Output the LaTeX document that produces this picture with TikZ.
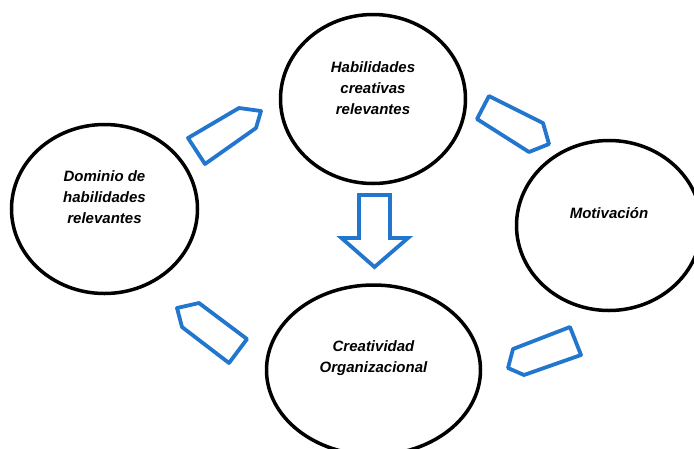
\documentclass[tikz,border=0pt]{standalone}
\usepackage{fontspec}
\setmainfont{Liberation Sans}
\usepackage{xcolor}
\usepackage{tikz}
\usetikzlibrary{shapes.geometric, calc}
\definecolor{arrblue}{RGB}{35,118,206}

\begin{document}
\begin{tikzpicture}[
  x=1pt, y=-1pt,
  font=\fontsize{15}{21}\selectfont\bfseries\itshape,
  circ/.style={ellipse, draw=black, line width=3.5pt, fill=white, inner sep=0pt},
  lbl/.style={align=center, inner sep=0pt},
  blk/.style={draw=arrblue, line width=3.8pt, fill=white, line join=round}
]
%% frame (x 0..694, y 0..448 from top)
\useasboundingbox (0,0) rectangle (694,448);
%% ellipses
\node[circ, minimum width=185pt, minimum height=169pt] (n_hab) at (373,99)  {};
\node[circ, minimum width=186pt, minimum height=169pt] (n_dom) at (104.5,209) {};
\node[circ, minimum width=185pt, minimum height=170pt] (n_mot) at (609,225.5) {};
\node[circ, minimum width=214pt, minimum height=170pt] (n_cre) at (373.5,370) {};
%% texts sit a little above the centres
\node[lbl] (t_hab) at ([yshift=11pt]n_hab.center) {Habilidades\\creativas\\relevantes};
\node[lbl] (t_dom) at ([yshift=12pt]n_dom.center) {Dominio de\\habilidades\\relevantes};
\node[lbl] (t_mot) at ([yshift=12pt]n_mot.center) {Motivación};
\node[lbl] (t_cre) at ([yshift=12pt]n_cre.center) {Creatividad\\Organizacional};
%% block arrows
\draw[blk] (188,138) -- (239,108) -- (261,111) -- (256,128) -- (205,164) -- cycle;
\draw[blk] (489,96) -- (543,123) -- (549,144) -- (529,152) -- (477,119) -- cycle;
\draw[blk] (177,308) -- (199,303) -- (247,339) -- (229,363) -- (182,327) -- cycle;
\draw[blk] (570,327) -- (581,355) -- (524,375) -- (508,368) -- (513,349) -- cycle;
%% down arrow between top and bottom
\draw[blk, line join=miter] (359,195) -- (390,195) -- (390,238) -- (408,238)
    -- (374.5,267) -- (341.5,238) -- (359,238) -- cycle;
\end{tikzpicture}
\end{document}
